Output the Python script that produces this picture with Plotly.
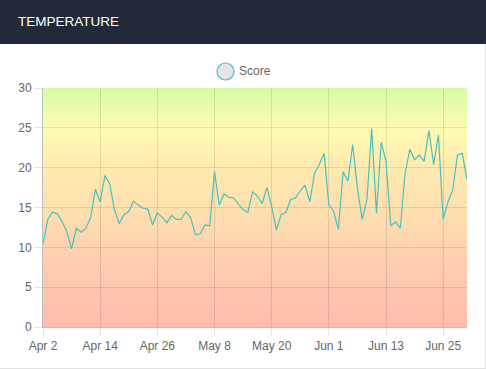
import base64
import pandas as pd
import plotly.graph_objects as go

# ---------------- data ----------------
start_date = "2024-04-02"
n_days = 90
dates = pd.date_range(start_date, periods=n_days, freq="D")

score = [
    10.4, 13.5, 14.4, 14.2, 13.2, 12.0, 9.8, 12.4, 11.9, 12.4,
    13.7, 17.3, 15.7, 19.0, 18.0, 14.7, 13.0, 14.1, 14.5, 15.8,
    15.3, 14.9, 14.8, 12.8, 14.3, 13.8, 13.1, 14.0, 13.5, 13.5,
    14.5, 13.7, 11.6, 11.7, 12.8, 12.7, 19.5, 15.3, 16.7, 16.3,
    16.2, 15.5, 14.7, 14.4, 17.0, 16.4, 15.5, 17.5, 15.1, 12.2,
    14.1, 14.4, 16.0, 16.2, 17.1, 17.8, 15.7, 19.3, 20.4, 21.8,
    15.4, 14.5, 12.3, 19.5, 18.3, 22.9, 17.4, 13.5, 16.0, 24.9,
    14.3, 23.2, 20.8, 12.7, 13.2, 12.4, 19.3, 22.3, 21.0, 21.6,
    20.8, 24.7, 20.4, 24.1, 13.5, 15.7, 17.2, 21.6, 21.8, 18.5,
]

series_name = "Score"
chart_title = "TEMPERATURE"
x_tick_labels = ["Apr 2", "Apr 14", "Apr 26", "May 8", "May 20", "Jun 1", "Jun 13", "Jun 25"]
x_tick_dates = [dates[i * 12] for i in range(len(x_tick_labels))]
y_ticks = [0, 5, 10, 15, 20, 25, 30]

# ---------------- layout geometry (pixels) ----------------
W, H = 486, 369
L, R, T, B = 43, 19, 88, 42
PW, PH = W - L - R, H - T - B


def px_x(p):
    return (p - L) / PW


def px_y(p):
    return (H - B - p) / PH


# background gradient (bottom -> top)
stops = [
    (0.00, "#ffbbad"),
    (0.30, "#fdd0b1"),
    (0.50, "#fee0ae"),
    (0.68, "#ffebaf"),
    (0.83, "#fffbb3"),
    (1.00, "#d6fba8"),
]
stop_xml = "".join(f'<stop offset="{o}" stop-color="{c}"/>' for o, c in stops)
svg = (
    '<svg xmlns="http://www.w3.org/2000/svg" width="10" height="200" '
    'preserveAspectRatio="none"><defs><linearGradient id="g" x1="0" y1="1" x2="0" y2="0">'
    f'{stop_xml}</linearGradient></defs><rect width="10" height="200" fill="url(#g)"/></svg>'
)
svg_uri = "data:image/svg+xml;base64," + base64.b64encode(svg.encode()).decode()

fig = go.Figure()
fig.add_trace(
    go.Scatter(
        x=dates,
        y=score,
        mode="lines",
        name=series_name,
        line=dict(color="rgb(75,192,192)", width=1.2),
        showlegend=False,
    )
)

font_family = "Liberation Sans, Arial, sans-serif"

fig.update_layout(
    width=W,
    height=H,
    margin=dict(l=L, r=R, t=T, b=B),
    paper_bgcolor="white",
    plot_bgcolor="rgba(0,0,0,0)",
    font=dict(family=font_family, size=12, color="#666"),
    images=[
        dict(
            source=svg_uri,
            xref="x domain",
            yref="y domain",
            x=0,
            y=1,
            sizex=1,
            sizey=1,
            xanchor="left",
            yanchor="top",
            sizing="stretch",
            layer="below",
        )
    ],
    xaxis=dict(
        range=[dates[0], dates[-1]],
        tickvals=x_tick_dates,
        ticktext=x_tick_labels,
        showgrid=True,
        gridcolor="rgba(0,0,0,0.1)",
        gridwidth=1,
        ticks="outside",
        ticklen=8,
        tickcolor="rgba(0,0,0,0.1)",
        showline=True,
        linecolor="rgba(0,0,0,0.25)",
        linewidth=1,
        zeroline=False,
        tickfont=dict(size=12, color="#666"),
        fixedrange=True,
    ),
    yaxis=dict(
        range=[0, 30],
        tickvals=y_ticks,
        showgrid=True,
        gridcolor="rgba(0,0,0,0.1)",
        gridwidth=1,
        ticks="outside",
        ticklen=8,
        tickcolor="rgba(0,0,0,0.1)",
        showline=True,
        linecolor="rgba(0,0,0,0.25)",
        linewidth=1,
        zeroline=False,
        tickfont=dict(size=12, color="#666"),
        fixedrange=True,
    ),
    shapes=[
        # header bar
        dict(
            type="rect", xref="paper", yref="paper",
            x0=px_x(0), x1=px_x(W), y0=px_y(44), y1=px_y(0),
            fillcolor="#222a3a", line=dict(width=0), layer="above",
        ),
        # card borders
        dict(
            type="line", xref="paper", yref="paper",
            x0=px_x(485.5), x1=px_x(485.5), y0=px_y(44), y1=px_y(H),
            line=dict(color="#e2e2e2", width=1),
        ),
        dict(
            type="line", xref="paper", yref="paper",
            x0=px_x(0), x1=px_x(485.5), y0=px_y(368.5), y1=px_y(368.5),
            line=dict(color="#e2e2e2", width=1),
        ),
        # legend marker
        dict(
            type="circle", xref="paper", yref="paper",
            x0=px_x(217), x1=px_x(234), y0=px_y(80), y1=px_y(63),
            fillcolor="#e3e5e5", line=dict(color="rgb(75,192,192)", width=1.2),
        ),
    ],
    annotations=[
        dict(
            text=chart_title, xref="paper", yref="paper",
            x=px_x(16), y=px_y(21), xanchor="left", yanchor="middle",
            showarrow=False,
            font=dict(family=font_family, size=13.5, color="white"),
        ),
        dict(
            text=series_name, xref="paper", yref="paper",
            x=px_x(237), y=px_y(71), xanchor="left", yanchor="middle",
            showarrow=False,
            font=dict(family=font_family, size=12, color="#666"),
        ),
    ],
)

fig.write_html(
    "out.html",
    config={"displayModeBar": False},
    post_script="document.body.style.margin='0';",
)
